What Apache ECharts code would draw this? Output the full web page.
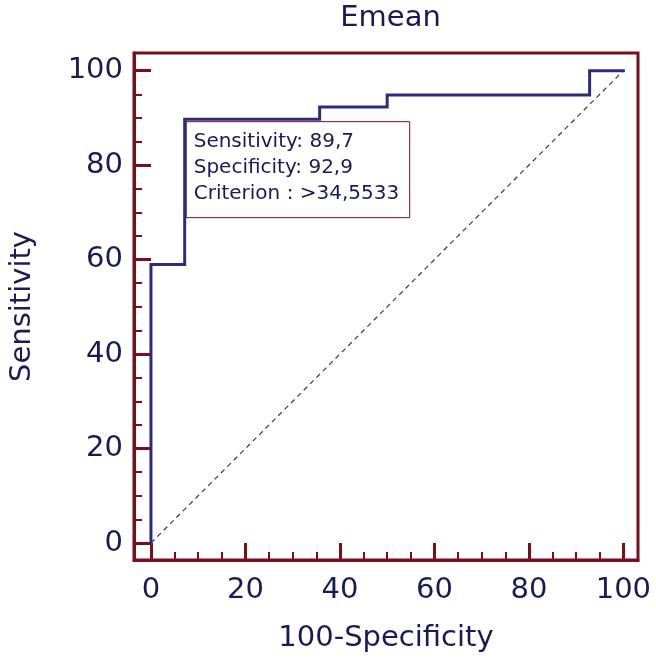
<!DOCTYPE html>
<html>
<head>
<meta charset="utf-8">
<script src="https://cdn.jsdelivr.net/npm/echarts@6/dist/echarts.min.js"></script>
<style>
html,body{margin:0;padding:0;background:#fff;}
#chart{width:656px;height:664px;}
</style>
</head>
<body>
<div id="chart"></div>
<script>
const titleText = 'Emean';
const xName = '100-Specificity';
const yName = 'Sensitivity';
const majorTicks = [0, 20, 40, 60, 80, 100];
const minorTicks = [5, 10, 15, 25, 30, 35, 45, 50, 55, 65, 70, 75, 85, 90, 95];
const rocX = [0, 0, 7.14, 7.14, 35.71, 35.71, 50, 50, 92.86, 92.86, 100];
const rocY = [0, 58.97, 58.97, 89.74, 89.74, 92.31, 92.31, 94.87, 94.87, 100, 100];
const diagX = [0, 100];
const diagY = [0, 100];
const criterionPoint = [7.14, 89.74];
const infoLines = ['Sensitivity: 89,7', 'Specificity: 92,9', 'Criterion : >34,5533'];

const FONT = 'DejaVu Sans';
const NAVY = '#1a1a58';
const MAROON = '#7a0e1c';
const LINE = '#2c2c7c';

const xMin = -3.59, xMax = 103.1, yMin = -3.6, yMax = 103.75;

const chart = echarts.init(document.getElementById('chart'), null, {renderer: 'canvas'});

function axisCommon(min, max) {
  return {
    type: 'value', min: min, max: max, gridIndex: 0,
    splitLine: {show: false}
  };
}

const option = {
  animation: false,
  backgroundColor: '#fff',
  title: {
    text: titleText, left: 385.5, top: -1, textAlign: 'center',
    textStyle: {fontFamily: FONT, fontSize: 29, fontWeight: 'normal', color: NAVY}
  },
  grid: {
    left: 133, right: 18, top: 53, bottom: 104,
    show: true, borderColor: MAROON, borderWidth: 3, backgroundColor: '#fff'
  },
  xAxis: [
    Object.assign(axisCommon(xMin, xMax), {
      position: 'bottom',
      name: xName, nameLocation: 'middle', nameGap: 64,
      nameTextStyle: {fontFamily: FONT, fontSize: 29, color: NAVY},
      axisLine: {show: true, onZero: false, lineStyle: {color: MAROON, width: 3}},
      axisTick: {show: true, inside: true, length: 17, customValues: majorTicks, lineStyle: {color: MAROON, width: 3}},
      axisLabel: {show: true, margin: 16, customValues: majorTicks, fontFamily: FONT, fontSize: 29, color: NAVY}
    }),
    Object.assign(axisCommon(xMin, xMax), {
      position: 'bottom',
      axisLine: {show: false, onZero: false},
      axisTick: {show: true, inside: true, length: 8, customValues: minorTicks, lineStyle: {color: MAROON, width: 2}},
      axisLabel: {show: false}
    })
  ],
  yAxis: [
    Object.assign(axisCommon(yMin, yMax), {
      position: 'left',
      name: yName, nameLocation: 'middle', nameGap: 97, nameRotate: 90,
      nameTextStyle: {fontFamily: FONT, fontSize: 29, color: NAVY},
      axisLine: {show: true, onZero: false, lineStyle: {color: MAROON, width: 3}},
      axisTick: {show: true, inside: true, length: 17, customValues: majorTicks, lineStyle: {color: MAROON, width: 3}},
      axisLabel: {show: true, margin: 11, customValues: majorTicks, fontFamily: FONT, fontSize: 29, color: NAVY}
    }),
    Object.assign(axisCommon(yMin, yMax), {
      position: 'left',
      axisLine: {show: false, onZero: false},
      axisTick: {show: true, inside: true, length: 8, customValues: minorTicks, lineStyle: {color: MAROON, width: 2}},
      axisLabel: {show: false}
    })
  ],
  series: [
    {
      type: 'line', xAxisIndex: 0, yAxisIndex: 0,
      data: diagX.map((v, i) => [v, diagY[i]]),
      symbol: 'none', silent: true, z: 2,
      lineStyle: {color: '#3a3a3a', width: 1.2, type: [5, 4]}
    },
    {
      type: 'line', xAxisIndex: 0, yAxisIndex: 0,
      data: rocX.map((v, i) => [v, rocY[i]]),
      symbol: 'none', silent: true, z: 3,
      lineStyle: {color: LINE, width: 3, join: 'miter', cap: 'square'}
    }
  ]
};

chart.setOption(option);

const p = chart.convertToPixel({xAxisIndex: 0, yAxisIndex: 0}, criterionPoint);
const bx = p[0] + 1, by = p[1] + 2.5;
const bw = 224, bh = 96;
chart.setOption({
  graphic: [{
    type: 'group', z: 100,
    children: [
      {type: 'rect', shape: {x: bx, y: by, width: bw, height: bh},
       style: {fill: '#fff', stroke: MAROON, lineWidth: 1}},
      {type: 'line', shape: {x1: bx, y1: by, x2: bx, y2: by + bh},
       style: {stroke: LINE, lineWidth: 2}}
    ].concat(infoLines.map((t, i) => ({
      type: 'text',
      style: {x: bx + 8, y: by + 20 + i * 26, text: t, fontFamily: FONT, fontSize: 20,
              fill: NAVY, textAlign: 'left', textVerticalAlign: 'middle'}
    })))
  }]
});
</script>
</body>
</html>
